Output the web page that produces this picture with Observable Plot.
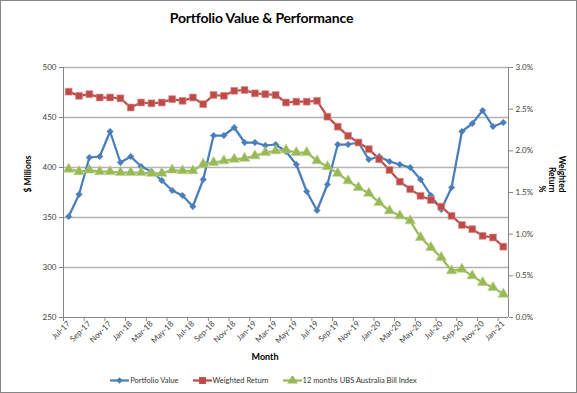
<!DOCTYPE html>
<html>
<head>
<meta charset="utf-8">
<script src="https://cdn.jsdelivr.net/npm/d3@7"></script>
<script src="https://cdn.jsdelivr.net/npm/@observablehq/plot@0.6"></script>
<style>
  html, body { margin: 0; padding: 0; background: #fff; }
  #chart { position: relative; width: 577px; height: 393px; box-sizing: border-box; border: 1px solid #868686; background: #fff; font-family: Lato, "Open Sans", sans-serif; }
  #title { height: 44px; width: 521px; text-align: center; font-weight: bold; font-size: 14px; line-height: 14px; padding-top: 10px; box-sizing: border-box; color: #000; letter-spacing: -0.2px; }
  #plot svg { display: block; }
  #legend { height: 24px; width: 525px; display: flex; justify-content: center; align-items: center; font-size: 7.5px; color: #333; }
  .item { display: flex; align-items: center; margin: 0 7px; }
  .item svg { margin-right: 1px; }
</style>
</head>
<body>
<div id="chart">
  <div id="title">Portfolio Value &amp; Performance</div>
  <div id="plot"></div>
  <div id="legend"></div>
</div>
<script>
const months = ["Jul-17","Aug-17","Sep-17","Oct-17","Nov-17","Dec-17","Jan-18","Feb-18","Mar-18","Apr-18","May-18","Jun-18",
  "Jul-18","Aug-18","Sep-18","Oct-18","Nov-18","Dec-18","Jan-19","Feb-19","Mar-19","Apr-19","May-19","Jun-19",
  "Jul-19","Aug-19","Sep-19","Oct-19","Nov-19","Dec-19","Jan-20","Feb-20","Mar-20","Apr-20","May-20","Jun-20",
  "Jul-20","Aug-20","Sep-20","Oct-20","Nov-20","Dec-20","Jan-21"];

// Portfolio value, $ millions (left axis)
const portfolioValue = [351,373,410,411,436,405,411,401,396,387,377,372,
  361,388,432,432,440,425,425,422,423,416,403,376,
  357,383,423,423,425,408,411,406,403,400,388,372,
  358,380,436,444,457,441,445];

// Weighted return, % (right axis)
const weightedReturn = [2.71,2.66,2.68,2.64,2.64,2.63,2.52,2.58,2.57,2.58,2.62,2.60,
  2.64,2.56,2.67,2.66,2.72,2.73,2.69,2.68,2.67,2.58,2.59,2.59,
  2.60,2.41,2.29,2.18,2.10,2.02,1.90,1.77,1.63,1.54,1.46,1.41,
  1.33,1.22,1.11,1.06,0.98,0.96,0.85];

// 12 months UBS Australia Bill Index, % (right axis)
const billIndex = [1.78,1.75,1.77,1.75,1.75,1.74,1.74,1.74,1.73,1.73,1.77,1.76,
  1.76,1.84,1.86,1.88,1.90,1.91,1.94,1.98,2.00,2.01,1.98,1.98,
  1.88,1.81,1.73,1.64,1.56,1.49,1.38,1.28,1.22,1.16,0.96,0.84,
  0.72,0.56,0.58,0.50,0.42,0.36,0.28];

const leftTicks = [250, 300, 350, 400, 450, 500];
const rightTicks = [0, 0.5, 1.0, 1.5, 2.0, 2.5, 3.0];
const seriesNames = ["Portfolio Value", "Weighted Return", "12 months UBS Australia Bill Index"];
const colors = ["#4A7EBB", "#BE4B48", "#98B954"];
const symbols = ["diamond2", "square", "triangle"];

// map right-axis percentages onto the left scale domain
const [lMin, lMax] = [leftTicks[0], leftTicks[leftTicks.length - 1]];
const [rMin, rMax] = [rightTicks[0], rightTicks[rightTicks.length - 1]];
const toLeft = p => lMin + (p - rMin) * (lMax - lMin) / (rMax - rMin);
const toRight = v => rMin + (v - lMin) * (rMax - rMin) / (lMax - lMin);

const n = months.length;
const data = months.map((m, i) => ({
  i, month: m,
  portfolio: portfolioValue[i],
  weighted: toLeft(weightedReturn[i]),
  bill: toLeft(billIndex[i])
}));
const labelIdx = d3.range(0, n, 2);
const boundaries = d3.range(-0.5, n - 0.5, 2);
const axisColor = "#868686";

const keys = ["portfolio", "weighted", "bill"];
const seriesMarks = [];
keys.forEach((k, s) => {
  seriesMarks.push(Plot.line(data, {x: "i", y: k, stroke: colors[s], strokeWidth: 2.25}));
});
seriesMarks.push(Plot.dot(data, {x: "i", y: "portfolio", symbol: symbols[0], r: 2.9, fill: colors[0], stroke: colors[0], strokeWidth: 0.5}));
seriesMarks.push(Plot.dot(data, {x: "i", y: "weighted", symbol: symbols[1], r: 3.9, fill: colors[1], stroke: "#D9908E", strokeWidth: 0.6}));
seriesMarks.push(Plot.dot(data, {x: "i", y: "bill", symbol: symbols[2], r: 3.9, fill: colors[2], stroke: "#B9D18F", strokeWidth: 0.6}));

const plot = Plot.plot({
  width: 575,
  height: 323,
  marginTop: 22,
  marginLeft: 62,
  marginRight: 68,
  marginBottom: 51,
  x: {type: "linear", domain: [-0.5, n - 0.5]},
  y: {domain: [lMin, lMax]},
  style: {fontFamily: "Lato, 'Open Sans', sans-serif", fontSize: "8px", color: "#333", background: "transparent", overflow: "visible"},
  marks: [
    Plot.gridY(leftTicks.slice(1), {stroke: "#B3B3B3", strokeOpacity: 1, strokeWidth: 1.6}),
    Plot.ruleX([-0.5, n - 0.5], {stroke: axisColor, strokeWidth: 1}),
    Plot.ruleY([lMin], {stroke: axisColor, strokeWidth: 1}),
    Plot.axisY({ticks: leftTicks, tickSize: 4, tickPadding: 3, stroke: axisColor, label: null, fill: "#404040"}),
    Plot.axisY({anchor: "right", ticks: rightTicks.map(toLeft), tickFormat: v => toRight(v).toFixed(1) + "%", tickSize: 4, tickPadding: 3, stroke: axisColor, label: null, fill: "#404040"}),
    Plot.axisX({ticks: boundaries, tickSize: 4, tickFormat: () => "", stroke: axisColor, label: null}),
    Plot.axisX({ticks: labelIdx, tickSize: 0, tickPadding: 5, tickFormat: i => months[i], tickRotate: -45, label: null, fill: "#404040"}),
    ...seriesMarks,
    Plot.text(["$ Millions"], {text: d => d, frameAnchor: "left", dx: -35, rotate: -90, fontWeight: "bold", fontSize: 8.5, fill: "#000"}),
    Plot.text(["Weighted\nReturn\n%"], {text: d => d, frameAnchor: "right", dx: 43.5, rotate: 90, fontWeight: "bold", fontSize: 8.5, lineHeight: 1.2, fill: "#000"}),
    Plot.text(["Month"], {text: d => d, frameAnchor: "bottom", dx: -21, dy: 42, fontWeight: "bold", fontSize: 9, fill: "#000"})
  ]
});
document.getElementById("plot").appendChild(plot);

// legend
const legend = document.getElementById("legend");
seriesNames.forEach((name, s) => {
  const item = document.createElement("div");
  item.className = "item";
  const sw = d3.create("svg").attr("width", 19).attr("height", 9);
  sw.append("line").attr("x1", 0).attr("x2", 19).attr("y1", 4.5).attr("y2", 4.5).attr("stroke", colors[s]).attr("stroke-width", 2.25);
  const sym = [d3.symbolDiamond2, d3.symbolSquare, d3.symbolTriangle][s];
  const rr = [2.9, 3.9, 3.9][s];
  sw.append("path").attr("d", d3.symbol(sym, Math.PI * rr * rr)()).attr("transform", "translate(9.5,4.5)").attr("fill", colors[s]);
  item.appendChild(sw.node());
  const t = document.createElement("span");
  t.textContent = name;
  item.appendChild(t);
  legend.appendChild(item);
});
</script>
</body>
</html>
